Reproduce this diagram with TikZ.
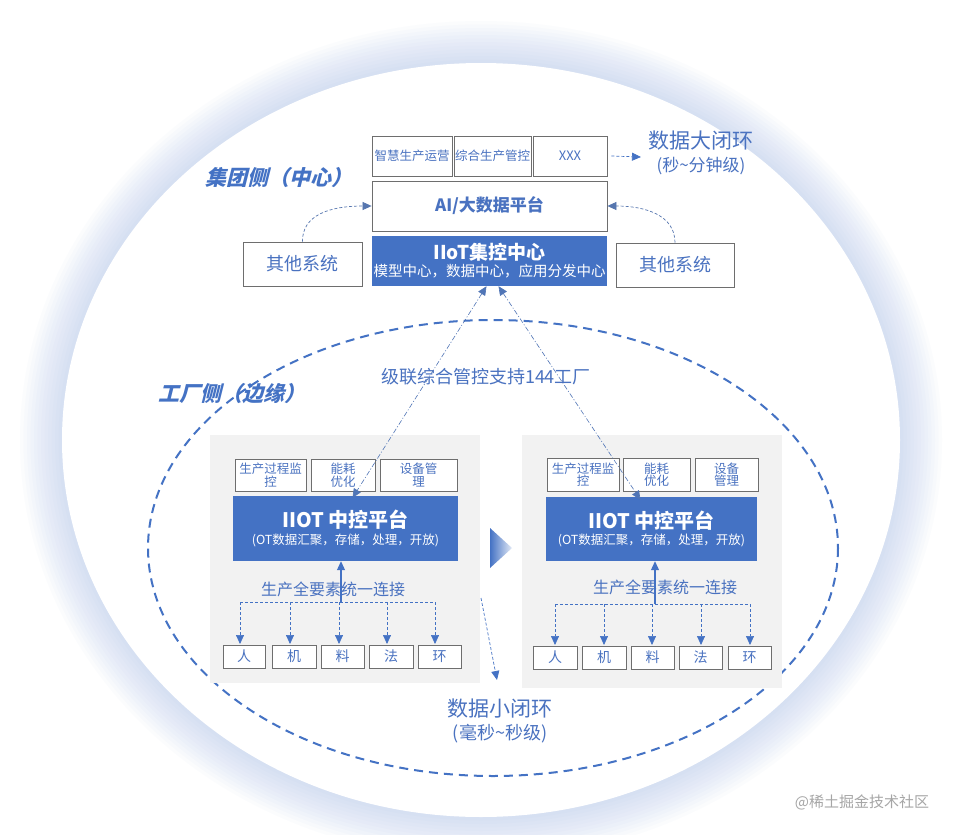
\documentclass[tikz,border=0pt]{standalone}
\usepackage{fontspec}
\setmainfont{Noto Sans CJK SC}
\newfontfamily\slfont{Noto Sans CJK SC}[FakeSlant=0.25, BoldFeatures={FakeSlant=0.25}]
\usetikzlibrary{arrows.meta,calc}
\definecolor{mblue}{HTML}{4472C4}
\definecolor{tblue}{HTML}{4A72C0}
\definecolor{bord}{HTML}{6E6E6E}
\definecolor{pgray}{HTML}{F2F2F2}
\definecolor{glowc}{HTML}{A9BDE6}
\newcommand{\fsz}[1]{\fontsize{#1pt}{#1pt}\selectfont}
\begin{document}
\begin{tikzpicture}[x=1pt,y=-1pt,
  gbox/.style={draw=bord, line width=0.8pt, fill=white, text=tblue, inner sep=0pt, align=center},
  bbox/.style={fill=mblue, text=white, inner sep=0pt, align=center},
  panel/.style={fill=pgray, inner sep=0pt},
  lbl/.style={text=tblue, inner sep=0pt, align=center},
  tip/.style={-{Triangle[length=9pt,width=8pt]}},
  dtip/.style={{Triangle[length=9pt,width=8pt]}-{Triangle[length=9pt,width=8pt]}},
  dsh/.style={draw=mblue, line width=0.7pt, dash pattern=on 3pt off 2pt},
  ddot/.style={draw=mblue!80!gray, line width=0.6pt, dash pattern=on 5pt off 2pt on 1pt off 2pt},
]
\useasboundingbox (0,0) rectangle (964,835);
\fill[white] (0,0) rectangle (964,835);
% glow
\foreach \k in {1,...,12}{
  \fill[glowc, opacity=0.045] (481,440) ellipse [x radius={419+3.5*\k}, y radius={377+3.5*\k}];
}
\fill[white] (481,440) ellipse [x radius=419, y radius=377];
% inner dashed ellipse
\draw[mblue, line width=2pt, dash pattern=on 9pt off 6pt] (493,548) ellipse [x radius=345, y radius=228];

% ---------- group side ----------
\node[gbox, minimum width=80, minimum height=40, font=\fsz{12.5}] (zh) at (412,156) {智慧生产运营};
\node[gbox, minimum width=77, minimum height=40, font=\fsz{12.5}] (zk) at (492.5,156) {综合生产管控};
\node[gbox, minimum width=74, minimum height=40, font=\fsz{13}] (xxx) at (570,156) {XXX};
\node[gbox, minimum width=235, minimum height=50, font=\fsz{17}\bfseries] (ai) at (489.5,206) {AI/大数据平台};
\node[bbox, minimum width=235, minimum height=50] (iiot) at (489.5,261)
  {{\fsz{19}\bfseries IIoT集控中心}\\[2pt]{\fsz{14.5}模型中心，数据中心，应用分发中心}};
\node[gbox, minimum width=119, minimum height=44, font=\fsz{18}] (oL) at (302.5,264) {其他系统};
\node[gbox, minimum width=118, minimum height=44, font=\fsz{18}] (oR) at (675,265) {其他系统};
\node[lbl, font=\fsz{21}] (big1) at (701,141) {数据大闭环};
\node[lbl, font=\fsz{17}] (big2) at (701,166) {(秒\textasciitilde 分钟级)};
\coordinate (bigtip) at (641,157);
\draw[dsh, tip] ([xshift=4pt]xxx.east) -- (bigtip);
\node[text=mblue, inner sep=0pt, font=\fsz{21}\slfont\bfseries] (grp) at (279,178) {集团侧（中心）};
\draw[dsh, draw=mblue!70!gray, tip] (oL.north) .. controls (302,215) and (330,206) .. (ai.west);
\draw[dsh, draw=mblue!70!gray, tip] (oR.north) .. controls (675,215) and (645,206) .. (ai.east);

% ---------- factory side ----------
\node[lbl, font=\fsz{18}] (casc) at (486,377) {级联综合管控支持144工厂};
\node[text=mblue, inner sep=0pt, font=\fsz{21}\slfont\bfseries] (fac) at (232,394) {工厂侧（边缘）};

\node[panel, minimum width=270, minimum height=248] (panL) at (345,559) {};
\node[panel, minimum width=260, minimum height=253] (panR) at (652,561.5) {};

% left panel
\node[gbox, minimum width=71, minimum height=32, font=\fsz{12.5}] (s1L) at (270.5,475) {生产过程监\\控};
\node[gbox, minimum width=64, minimum height=32, font=\fsz{12.5}] (s2L) at (343,475) {能耗\\优化};
\node[gbox, minimum width=77, minimum height=32, font=\fsz{12.5}] (s3L) at (418.5,475) {设备管\\理};
\node[bbox, minimum width=225, minimum height=65] (pL) at (345.5,528.5)
  {{\fsz{20}\bfseries IIOT 中控平台}\\[3pt]{\fsz{12.5}(OT数据汇聚，存储，处理，开放)}};
\node[gbox, minimum width=42, minimum height=23, font=\fsz{14}] (b1L) at (244,656.5) {人};
\node[gbox, minimum width=44, minimum height=23, font=\fsz{14}] (b2L) at (294,656.5) {机};
\node[gbox, minimum width=43, minimum height=23, font=\fsz{14}] (b3L) at (342.5,656.5) {料};
\node[gbox, minimum width=44, minimum height=23, font=\fsz{14}] (b4L) at (391,656.5) {法};
\node[gbox, minimum width=43, minimum height=23, font=\fsz{14}] (b5L) at (439.5,656.5) {环};
\node[lbl, font=\fsz{16}] (connL) at (333,589) {生产全要素统一连接};
\coordinate (barL1) at (240,602);
\coordinate (barL2) at (435,602);
\coordinate (upL) at (341,602);
\draw[dsh] (barL1) -- (barL2);
\foreach \x in {240,290,339,387,435}{
  \draw[dsh, tip] (\x,602) -- (\x,644);
}
\draw[mblue, line width=1.1pt, tip] (upL) -- ([xshift=-4.5pt]pL.south);

% right panel
\node[gbox, minimum width=72, minimum height=33, font=\fsz{12.5}] (s1R) at (583,474.5) {生产过程监\\控};
\node[gbox, minimum width=67, minimum height=33, font=\fsz{12.5}] (s2R) at (656.5,474.5) {能耗\\优化};
\node[gbox, minimum width=63, minimum height=33, font=\fsz{12.5}] (s3R) at (726.5,474.5) {设备\\管理};
\node[bbox, minimum width=211, minimum height=64] (pR) at (651.5,529)
  {{\fsz{20}\bfseries IIOT 中控平台}\\[3pt]{\fsz{12.5}(OT数据汇聚，存储，处理，开放)}};
\node[gbox, minimum width=44, minimum height=23, font=\fsz{14}] (b1R) at (555,657.5) {人};
\node[gbox, minimum width=44, minimum height=23, font=\fsz{14}] (b2R) at (604,657.5) {机};
\node[gbox, minimum width=43, minimum height=23, font=\fsz{14}] (b3R) at (652.5,657.5) {料};
\node[gbox, minimum width=43, minimum height=23, font=\fsz{14}] (b4R) at (700.5,657.5) {法};
\node[gbox, minimum width=43, minimum height=23, font=\fsz{14}] (b5R) at (749.5,657.5) {环};
\node[lbl, font=\fsz{16}] (connR) at (665,587) {生产全要素统一连接};
\coordinate (barR1) at (555,604);
\coordinate (barR2) at (750,604);
\coordinate (upR) at (655,604);
\draw[dsh] (barR1) -- (barR2);
\foreach \x in {555,604,652,701,750}{
  \draw[dsh, tip] (\x,604) -- (\x,645);
}
\draw[mblue, line width=1.1pt, tip] (upR) -- ([xshift=3.5pt]pR.south);

% cascade lines
\draw[ddot, dtip] ([xshift=-3pt]iiot.south) -- ([xshift=7pt,yshift=-2pt]pL.north);
\draw[ddot, dtip] ([xshift=9pt]iiot.south) -- ([xshift=-11pt,yshift=-3pt]pR.north);

% triangle between panels
\path[left color=mblue, right color=mblue!15] (490,528) -- (512,548) -- (490,568) -- cycle;

% small loop
\coordinate (sl1) at (481,598);
\coordinate (sl2) at (497,680);
\draw[dsh, tip] (sl1) -- (sl2);
\node[lbl, font=\fsz{21}] (small1) at (500,709) {数据小闭环};
\node[lbl, font=\fsz{18}] (small2) at (500,734) {(毫秒\textasciitilde 秒级)};

\node[text=gray!70, font=\fsz{15}, inner sep=0pt] (wm) at (862,802) {@稀土掘金技术社区};
\end{tikzpicture}
\end{document}
